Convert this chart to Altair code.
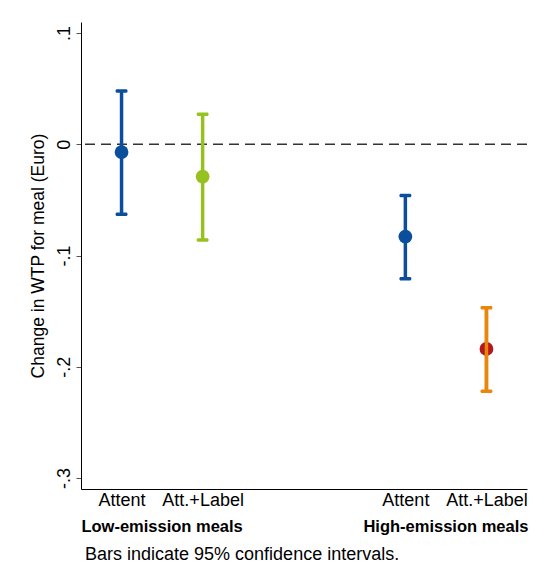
import altair as alt
import pandas as pd

# ---- data ----
groups = ["Low-emission meals", "Low-emission meals", "High-emission meals", "High-emission meals"]
treatments = ["Attent", "Att.+Label", "Attent", "Att.+Label"]
estimate = [-0.007, -0.029, -0.083, -0.184]
ci_low = [-0.063, -0.086, -0.121, -0.222]
ci_high = [0.048, 0.027, -0.046, -0.147]

group_order = ["Low-emission meals", "High-emission meals"]
treat_order = ["Attent", "Att.+Label"]
y_ticks = [-0.3, -0.2, -0.1, 0.0, 0.1]

# ---- styles ----
point_colors = ["#0b4f9c", "#97c11f", "#0b4f9c", "#b3181d"]
bar_colors = ["#0b4f9c", "#97c11f", "#0b4f9c", "#e8870c"]
GROUP_GAP = 3.5
FONT = "Liberation Sans"

W, H = 446, 467

rows = []
for i, (g, t, e, lo, hi) in enumerate(zip(groups, treatments, estimate, ci_low, ci_high)):
    gi = group_order.index(g)
    ti = treat_order.index(t)
    rows.append(dict(idx=str(i), pid="p" + str(i), group=g, treatment=t, est=e, lo=lo, hi=hi,
                     pos=1 + gi * GROUP_GAP + ti))
df = pd.DataFrame(rows)

ids = list(df["idx"])
pids = list(df["pid"])
pos_list = list(df["pos"])
label_expr = " : ".join(
    [f"datum.value == {p} ? '{t}'" for p, t in zip(pos_list, treatments)]
) + " : ''"

x_scale = alt.Scale(domain=[0.5, 6.0], nice=False, zero=False)
y_scale = alt.Scale(domain=[-0.31, 0.11], nice=False, zero=False)

x_enc = alt.X("pos:Q", scale=x_scale,
              axis=alt.Axis(values=pos_list, labelExpr=label_expr, title=None,
                            ticks=False, grid=False, domainColor="black", domainWidth=1,
                            labelFont=FONT, labelFontSize=18, labelColor="black",
                            labelPadding=2, labelFlush=False))

y_axis = alt.Axis(values=y_ticks,
                  labelExpr="datum.value == 0 ? '0' : (datum.value < 0 ? '-' : '') + replace(format(abs(datum.value), '.1f'), '0.', '.')",
                  title="Change in WTP for meal (Euro)", titleFont=FONT, titleFontSize=17.5,
                  titleFontWeight="normal", titleColor="black", titlePadding=8,
                  labelAngle=270, labelAlign="center", labelBaseline="bottom",
                  labelFont=FONT, labelFontSize=18, labelColor="black", labelPadding=3,
                  tickSize=5, tickColor="#555555", tickWidth=1,
                  grid=False, domainColor="black", domainWidth=1)

base = alt.Chart(df)

zero_line = alt.Chart(pd.DataFrame({"z": [0.0]})).mark_rule(
    color="#333333", strokeDash=[10, 6], strokeWidth=1.5
).encode(y=alt.Y("z:Q", scale=y_scale, axis=y_axis))

bar_color = alt.Color("idx:N", scale=alt.Scale(domain=ids + pids, range=bar_colors + point_colors),
                      legend=None)
pt_color = alt.Color("pid:N", scale=alt.Scale(domain=ids + pids, range=bar_colors + point_colors),
                     legend=None)

bars = base.mark_rule(strokeWidth=3.5, opacity=1).encode(
    x=x_enc, y=alt.Y("lo:Q", scale=y_scale), y2="hi:Q", color=bar_color)

caps_lo = base.mark_tick(orient="horizontal", size=12, thickness=3.5, opacity=1,
                         cornerRadius=1.5).encode(
    x=x_enc, y=alt.Y("lo:Q", scale=y_scale), color=bar_color)
caps_hi = base.mark_tick(orient="horizontal", size=12, thickness=3.5, opacity=1,
                         cornerRadius=1.5).encode(
    x=x_enc, y=alt.Y("hi:Q", scale=y_scale), color=bar_color)

points = base.mark_point(filled=True, size=190, opacity=1).encode(
    x=x_enc, y=alt.Y("est:Q", scale=y_scale), color=pt_color)

bars_top = base.transform_filter(f"datum.idx == '{ids[-1]}'").mark_rule(
    strokeWidth=3.5, opacity=1).encode(
    x=x_enc, y=alt.Y("lo:Q", scale=y_scale), y2="hi:Q", color=bar_color)

grp_df = pd.DataFrame({"group": group_order,
                       "gpos": [1 + gi * GROUP_GAP + 0.5 for gi in range(len(group_order))]})
group_labels = alt.Chart(grp_df).mark_text(
    font=FONT, fontSize=16.5, fontWeight="bold", color="black", baseline="middle", align="center"
).encode(x=alt.X("gpos:Q", scale=x_scale), y=alt.value(H + 38), text="group:N")

caption = alt.Chart(pd.DataFrame({"t": ["Bars indicate 95% confidence intervals."]})).mark_text(
    font=FONT, fontSize=18, color="black", baseline="middle", align="left"
).encode(x=alt.value(4), y=alt.value(H + 66), text="t:N")

chart = alt.layer(zero_line, bars, caps_lo, caps_hi, points, bars_top, group_labels, caption).properties(
    width=W, height=H,
    autosize=alt.AutoSizeParams(type="none"),
    padding={"left": 73, "top": 14, "right": 2, "bottom": 80},
    background="white",
).configure_view(stroke=None)

chart.save("out.html", embed_options={"renderer": "svg", "actions": False})
